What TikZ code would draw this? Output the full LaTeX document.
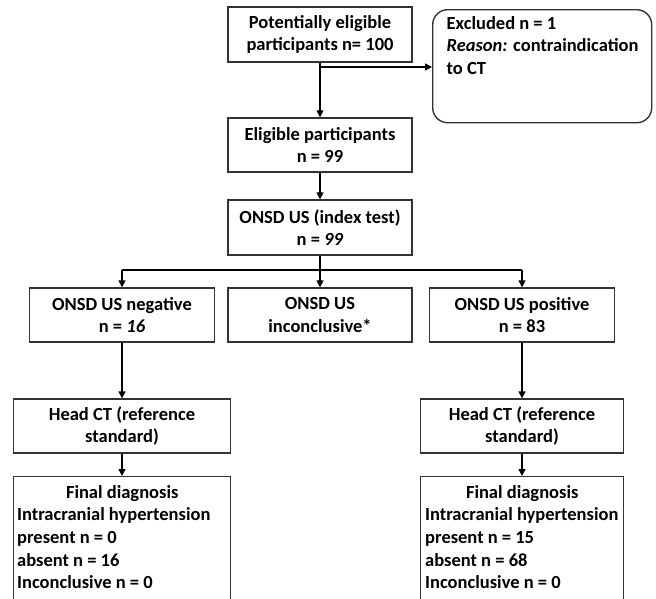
\documentclass[tikz,border=0pt]{standalone}
\usepackage{fontspec}
\setmainfont{Carlito}
\usetikzlibrary{arrows.meta}
\begin{document}
\begin{tikzpicture}[x=1pt,y=-1pt,
  txt/.style={font=\fontsize{18.5}{22.7}\selectfont\bfseries},
  box/.style={draw=black!80,line width=1.4pt,inner sep=0pt,align=center,txt},
  arr/.style={draw=black,line width=1.5pt,-{Triangle[length=7pt,width=7pt]}},
  ln/.style={draw=black,line width=1.5pt}]
\useasboundingbox (0,0) rectangle (656,598);
\clip (0,0) rectangle (656,598);
\node[box,minimum width=184pt,minimum height=55pt] (b1) at (320,34.5) {Potentially eligible\\participants n= 100};
\node[box,rounded corners=15pt,minimum width=219pt,minimum height=113pt,anchor=north west] (excl) at (432,9) {};
\node[txt,align=left,anchor=north west,inner sep=0pt] (excltxt) at (446.5,16) {Excluded n = 1\\\textit{Reason:} contraindication\\to CT};
\node[box,minimum width=184pt,minimum height=54pt] (elig) at (320,145) {Eligible participants\\n = 99};
\node[box,minimum width=184pt,minimum height=55pt] (idx) at (320,227.5) {ONSD US (index test)\\n = \textit{99}};
\node[box,minimum width=185pt,minimum height=54pt] (neg) at (122,315) {ONSD US negative\\n = \textit{16}};
\node[box,minimum width=184pt,minimum height=54pt] (inc) at (320,315) {ONSD US\\inconclusive*};
\node[box,minimum width=185pt,minimum height=54pt] (pos) at (522,315) {ONSD US positive\\n = 83};
\node[box,minimum width=217pt,minimum height=54pt] (ct1) at (122,426) {Head CT (reference\\standard)};
\node[box,minimum width=203pt,minimum height=54pt] (ct2) at (522,426) {Head CT (reference\\standard)};
\node[box,minimum width=217pt,minimum height=130pt,anchor=north] (fd1) at (122,476) {};
\node[box,minimum width=203pt,minimum height=130pt,anchor=north] (fd2) at (522,476) {};
\node[txt,anchor=north west,inner sep=0pt,align=left] (fd1t) at (17,485) {\makebox[210pt]{Final diagnosis}\\Intracranial hypertension\\present n = 0\\absent n = 16\\Inconclusive n = 0};
\node[txt,anchor=north west,inner sep=0pt,align=left] (fd2t) at (425,485) {\makebox[194pt]{Final diagnosis}\\Intracranial hypertension\\present n = 15\\absent n = 68\\Inconclusive n = 0};
\coordinate (j1) at (320,67);
\coordinate (br) at (320,270);
\draw[arr] (b1) -- (elig);
\draw[arr] (j1) -- (j1 -| excl.west);
\draw[arr] (elig) -- (idx);
\draw[ln] (idx) -- (br);
\draw[ln] (br -| neg.north) -- (br -| pos.north);
\draw[arr] (br -| neg.north) -- (neg);
\draw[arr] (br) -- (inc);
\draw[arr] (br -| pos.north) -- (pos);
\draw[arr] (neg) -- (ct1);
\draw[arr] (pos) -- (ct2);
\draw[arr] (ct1) -- (fd1);
\draw[arr] (ct2) -- (fd2);
\end{tikzpicture}
\end{document}
